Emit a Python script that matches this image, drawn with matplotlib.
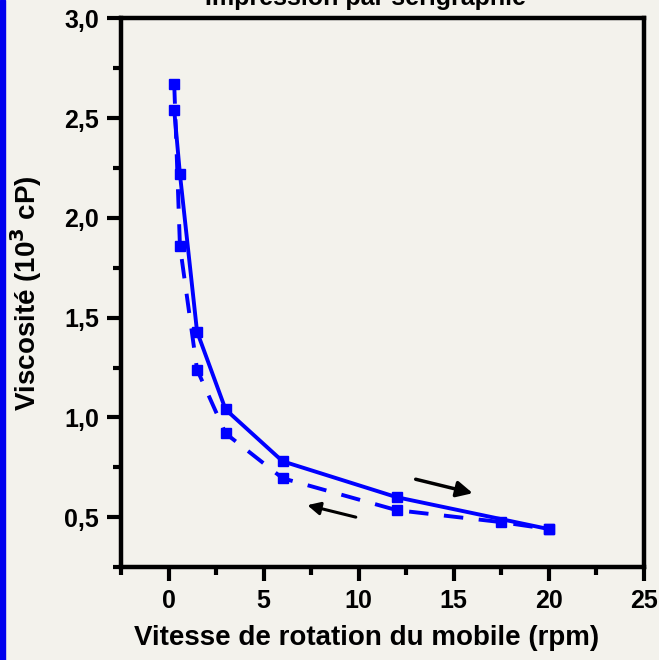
import matplotlib.pyplot as plt
import numpy as np
from matplotlib.ticker import MultipleLocator, FuncFormatter

plt.rcParams['font.family'] = ['Liberation Sans', 'DejaVu Sans']
plt.rcParams['font.weight'] = 'bold'

# montee (trait plein) et descente (tirets)
rpm_up = [0.3, 0.6, 1.5, 3, 6, 12, 20]
visc_up = [2.54, 2.22, 1.43, 1.04, 0.78, 0.60, 0.44]
rpm_down = [0.3, 0.6, 1.5, 3, 6, 12, 17.5, 20]
visc_down = [2.67, 1.86, 1.24, 0.92, 0.695, 0.535, 0.475, 0.44]

bg = '#f3f2ec'
blue = '#0000ff'

fig = plt.figure(figsize=(6.59, 6.60), dpi=100, facecolor=bg)
ax = fig.add_axes([0.1836, 0.1409, 0.7934, 0.8311])
ax.set_facecolor(bg)

ax.plot(rpm_up, visc_up, '-s', color=blue, lw=2.8, ms=6.5, mec=blue)
ax.plot(rpm_down, visc_down, '--s', color=blue, lw=2.8, ms=6.5, mec=blue,
        dashes=(5, 4))

# fleches
ax.annotate('', xy=(16.0, 0.62), xytext=(13.0, 0.69),
            arrowprops=dict(arrowstyle='-|>', color='black', lw=2.5,
                            mutation_scale=24, shrinkA=0, shrinkB=0))
ax.annotate('', xy=(7.3, 0.56), xytext=(9.85, 0.50),
            arrowprops=dict(arrowstyle='-|>', color='black', lw=2.2,
                            mutation_scale=19, shrinkA=0, shrinkB=0))

ax.set_xlim(-2.5, 25)
ax.set_ylim(0.25, 3.0)
ax.xaxis.set_major_locator(MultipleLocator(5))
ax.xaxis.set_minor_locator(MultipleLocator(2.5))
ax.yaxis.set_major_locator(MultipleLocator(0.5))
ax.yaxis.set_minor_locator(MultipleLocator(0.25))
ax.yaxis.set_major_formatter(FuncFormatter(lambda v, p: f"{v:.1f}".replace('.', ',')))
ax.xaxis.set_major_formatter(FuncFormatter(lambda v, p: f"{v:g}"))

for s in ax.spines.values():
    s.set_linewidth(3.2)
ax.tick_params(which='major', direction='out', length=10, width=3,
               labelsize=18, pad=6)
ax.tick_params(which='minor', direction='out', length=5.5, width=3)
ax.tick_params(top=False, right=False)

ax.set_xlabel('Vitesse de rotation du mobile (rpm)', fontsize=20,
              fontweight='bold')
ax.xaxis.set_label_coords(0.47, -0.13, transform=ax.transAxes)
ax.xaxis.label.set_va('center')
ax.set_ylabel('Viscosité (10$^3$ cP)', fontsize=20, fontweight='bold',
              labelpad=14)

fig.text(0.555, 1 - 5 / 660, 'Impression par sérigraphie', ha='center',
         va='baseline', fontsize=18, fontweight='bold')

# bande bleue a gauche
fig.patches.append(plt.Rectangle((0, 0), 5 / 659, 1, transform=fig.transFigure,
                                 color='#0000ee', zorder=10))

fig.savefig('out.png', dpi=100, facecolor=bg)
